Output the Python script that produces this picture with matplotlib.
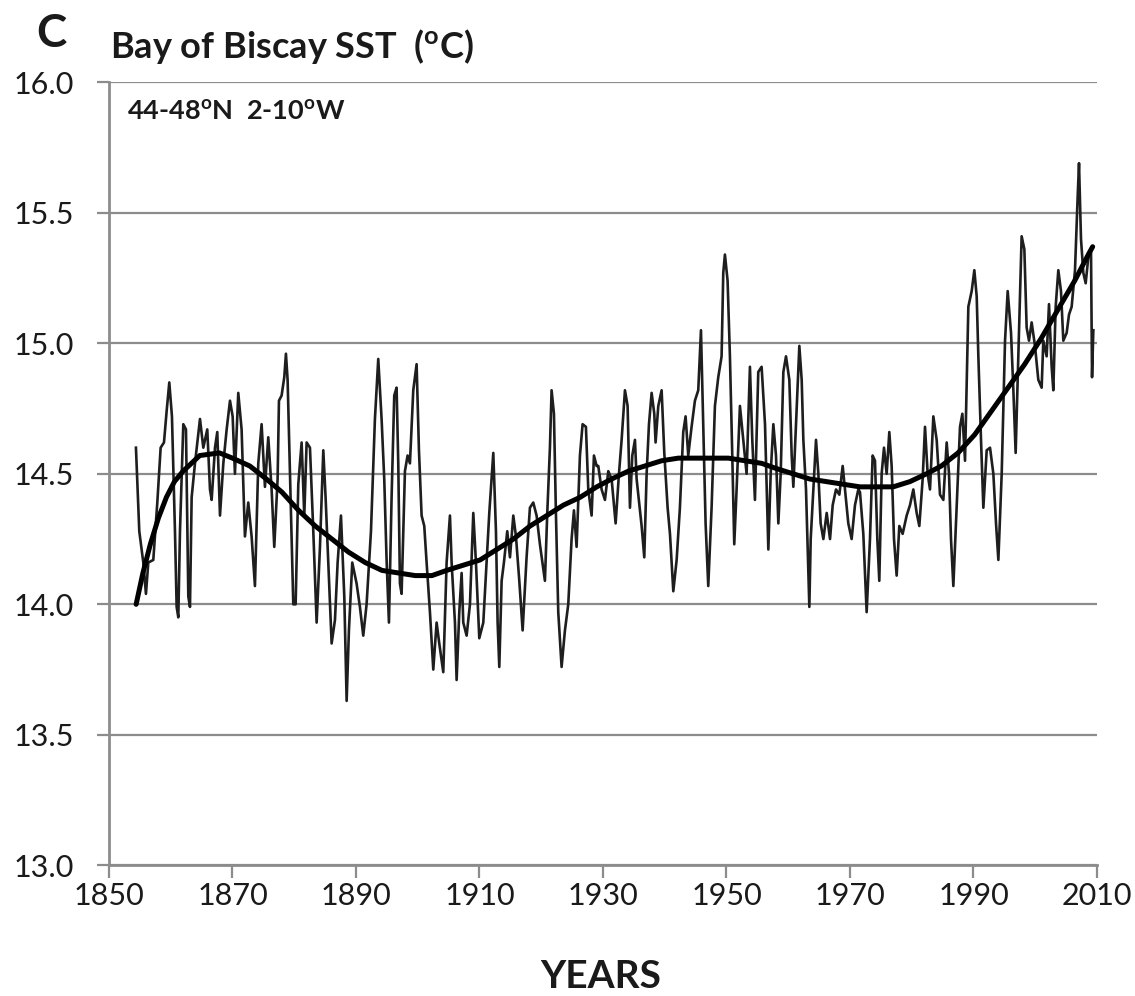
import matplotlib
matplotlib.use("Agg")
import matplotlib.pyplot as plt

plt.rcParams['font.family'] = ['Lato', 'DejaVu Sans']
plt.rcParams['mathtext.fontset'] = 'custom'
plt.rcParams['mathtext.rm'] = 'Lato'
plt.rcParams['mathtext.bf'] = 'Lato:bold'

# ---- data ----
sst_years = [
    1854.37, 1854.91, 1855.56, 1855.99, 1856.37, 1857.18, 1857.83, 1858.37, 1858.91, 1859.34,
    1859.77, 1860.20, 1860.69, 1860.96, 1861.23, 1861.50, 1862.04, 1862.47, 1862.85, 1863.12,
    1863.39, 1863.93, 1864.74, 1865.28, 1865.92, 1866.36, 1866.63, 1867.17, 1867.54, 1867.98,
    1868.52, 1869.06, 1869.60, 1870.03, 1870.40, 1870.94, 1871.48, 1872.02, 1872.56, 1873.10,
    1873.64, 1874.18, 1874.72, 1875.26,
    1875.80, 1876.34, 1876.77, 1877.31, 1877.53, 1877.96, 1878.39, 1878.66, 1878.93, 1879.31,
    1879.85, 1880.23, 1880.66, 1881.20, 1881.63, 1882.01, 1882.55, 1883.09, 1883.63, 1884.17,
    1884.71, 1885.08, 1885.52, 1886.06, 1886.60, 1887.03, 1887.57, 1888.11, 1888.49, 1888.86,
    1889.40, 1890.10, 1890.64, 1891.18, 1891.72, 1892.43, 1893.07, 1893.61, 1894.15, 1894.58,
    1894.96, 1895.34, 1895.77, 1896.20, 1896.58, 1896.85, 1897.12, 1897.39, 1897.93, 1898.36,
    1898.74, 1899.28, 1899.82, 1900.20, 1900.63, 1901.06, 1901.44, 1901.98,
    1902.52, 1903.06, 1903.49, 1904.14, 1904.68, 1905.22, 1905.49, 1906.03, 1906.30, 1906.73,
    1907.11, 1907.38, 1907.92, 1908.46, 1909.00, 1909.43, 1909.97, 1910.62, 1911.16, 1911.59,
    1912.24, 1912.67, 1912.94, 1913.21, 1913.59, 1913.96, 1914.50, 1914.94, 1915.48, 1915.91,
    1916.45, 1916.99, 1917.63, 1918.17, 1918.71, 1919.25, 1919.79, 1920.60, 1920.98, 1921.41,
    1921.68, 1922.06, 1922.38, 1922.76, 1923.30, 1923.84, 1924.38, 1924.92, 1925.30, 1925.73,
    1926.27, 1926.70, 1927.24, 1927.62, 1928.16, 1928.54, 1928.97,
    1929.24, 1929.78, 1930.32, 1930.86, 1931.40, 1932.05, 1932.59, 1933.02, 1933.56, 1933.99,
    1934.37, 1934.75, 1935.18, 1935.45, 1936.26, 1936.69, 1937.07, 1937.45, 1937.88, 1938.31,
    1938.52, 1938.96, 1939.50, 1939.93, 1940.47, 1940.85, 1941.39, 1941.93, 1942.46, 1943.00,
    1943.38, 1943.81, 1944.35, 1944.89, 1945.43, 1945.87, 1946.24, 1946.62, 1947.05, 1947.59,
    1948.13, 1948.67, 1949.21, 1949.48, 1949.75, 1950.18, 1950.56, 1950.94, 1951.26, 1951.64,
    1952.18, 1952.72, 1953.26, 1953.80, 1954.18, 1954.61, 1955.15, 1955.69,
    1956.24, 1956.78, 1957.16, 1957.59, 1958.02, 1958.40, 1958.78, 1959.21, 1959.64, 1960.18,
    1960.56, 1960.83, 1961.26, 1961.80, 1962.18, 1962.45, 1962.88, 1963.42, 1963.64, 1964.07,
    1964.50, 1964.88, 1965.25, 1965.69, 1966.23, 1966.77, 1967.20, 1967.74, 1968.28, 1968.82,
    1969.19, 1969.73, 1970.27, 1970.81, 1971.35, 1971.62, 1972.16, 1972.70, 1973.24, 1973.67,
    1974.05, 1974.43, 1974.75, 1975.13, 1975.51, 1975.94, 1976.37, 1976.75, 1977.13, 1977.56,
    1977.99, 1978.53, 1979.18, 1979.72, 1980.26, 1980.80, 1981.23, 1981.77, 1982.15,
    1982.58, 1982.96, 1983.50, 1984.04, 1984.58, 1985.12, 1985.66, 1986.04, 1986.36, 1986.74,
    1987.28, 1987.82, 1988.20, 1988.63, 1989.17, 1989.71, 1990.14, 1990.52, 1990.79, 1991.22,
    1991.60, 1992.14, 1992.68, 1993.22, 1993.65, 1994.03, 1994.57, 1995.11, 1995.54, 1996.08,
    1996.46, 1996.83, 1997.26, 1997.80, 1998.24, 1998.61, 1998.99, 1999.42, 1999.96, 2000.50,
    2001.04, 2001.31, 2001.85, 2002.23, 2002.66, 2002.93, 2003.31, 2003.74, 2004.17, 2004.55,
    2005.09, 2005.47, 2005.90, 2006.44, 2006.87, 2007.09, 2007.41, 2007.79, 2008.17, 2008.60,
    2009.03, 2009.20, 2009.41,
]
sst_values = [
    14.60, 14.28, 14.16, 14.04, 14.16, 14.17, 14.39, 14.60, 14.62, 14.74,
    14.85, 14.72, 14.28, 13.99, 13.95, 14.28, 14.69, 14.67, 14.03, 13.99,
    14.41, 14.54, 14.71, 14.60, 14.67, 14.44, 14.40, 14.60, 14.66, 14.34,
    14.54, 14.67, 14.78, 14.72, 14.50, 14.81, 14.67, 14.26, 14.39, 14.26,
    14.07, 14.54, 14.69, 14.45,
    14.64, 14.44, 14.22, 14.48, 14.78, 14.80, 14.87, 14.96, 14.86, 14.51,
    14.00, 14.00, 14.46, 14.62, 14.34, 14.62, 14.60, 14.28, 13.93, 14.22,
    14.59, 14.41, 14.16, 13.85, 13.94, 14.16, 14.34, 14.03, 13.63, 13.90,
    14.16, 14.08, 13.99, 13.88, 14.00, 14.28, 14.71, 14.94, 14.71, 14.48,
    14.17, 13.93, 14.41, 14.80, 14.83, 14.54, 14.08, 14.04, 14.51, 14.57,
    14.54, 14.82, 14.92, 14.59, 14.34, 14.30, 14.16, 13.97,
    13.75, 13.93, 13.85, 13.74, 14.16, 14.34, 14.16, 13.93, 13.71, 13.97,
    14.12, 13.93, 13.88, 14.00, 14.35, 14.16, 13.87, 13.93, 14.16, 14.35,
    14.58, 14.28, 13.93, 13.76, 14.09, 14.16, 14.28, 14.18, 14.34, 14.26,
    14.09, 13.90, 14.18, 14.37, 14.39, 14.34, 14.23, 14.09, 14.35, 14.60,
    14.82, 14.73, 14.35, 13.97, 13.76, 13.90, 14.00, 14.25, 14.36, 14.22,
    14.57, 14.69, 14.68, 14.44, 14.34, 14.57, 14.53,
    14.53, 14.44, 14.40, 14.51, 14.48, 14.31, 14.50, 14.63, 14.82, 14.76,
    14.37, 14.57, 14.63, 14.48, 14.30, 14.18, 14.50, 14.69, 14.81, 14.73,
    14.62, 14.76, 14.82, 14.58, 14.37, 14.27, 14.05, 14.17, 14.37, 14.66,
    14.72, 14.57, 14.68, 14.78, 14.82, 15.05, 14.69, 14.31, 14.07, 14.37,
    14.76, 14.87, 14.95, 15.27, 15.34, 15.24, 14.95, 14.57, 14.23, 14.44,
    14.76, 14.63, 14.50, 14.91, 14.63, 14.40, 14.89, 14.91,
    14.69, 14.21, 14.50, 14.69, 14.57, 14.31, 14.50, 14.89, 14.95, 14.86,
    14.57, 14.45, 14.69, 14.99, 14.86, 14.63, 14.44, 13.99, 14.25, 14.44,
    14.63, 14.50, 14.31, 14.25, 14.35, 14.25, 14.38, 14.44, 14.42, 14.53,
    14.44, 14.31, 14.25, 14.38, 14.44, 14.43, 14.27, 13.97, 14.25, 14.57,
    14.55, 14.25, 14.09, 14.50, 14.60, 14.50, 14.66, 14.53, 14.25, 14.11,
    14.30, 14.27, 14.34, 14.38, 14.44, 14.35, 14.30, 14.48, 14.68,
    14.50, 14.44, 14.72, 14.63, 14.42, 14.40, 14.62, 14.50, 14.25, 14.07,
    14.37, 14.68, 14.73, 14.55, 15.14, 15.20, 15.28, 15.18, 14.95, 14.63,
    14.37, 14.59, 14.60, 14.50, 14.31, 14.17, 14.50, 15.01, 15.20, 15.04,
    14.82, 14.58, 14.95, 15.41, 15.36, 15.06, 15.01, 15.08, 14.99, 14.86,
    14.83, 15.01, 14.95, 15.15, 14.91, 14.82, 15.14, 15.28, 15.20, 15.01,
    15.04, 15.11, 15.14, 15.28, 15.56, 15.69, 15.40, 15.27, 15.23, 15.33,
    15.36, 14.87, 15.05,
]

trend_years = [
    1854.4, 1855.5, 1856.7, 1858.0, 1859.3, 1860.6, 1862.0, 1864.7, 1867.9, 1870.0,
    1872.8, 1875.5, 1878.0, 1880.7, 1883.4, 1886.1, 1888.8, 1891.5, 1894.2, 1896.9,
    1899.6, 1902.3, 1904.7, 1907.4, 1910.1, 1912.8, 1915.5, 1918.2, 1920.9, 1923.6,
    1926.3, 1929.0, 1931.4, 1934.1, 1936.8, 1939.5, 1942.2, 1944.9, 1947.6, 1950.3,
    1953.0, 1955.7, 1958.1, 1960.8, 1963.5, 1966.2, 1968.9, 1971.6, 1974.3, 1977.0,
    1979.7, 1982.4, 1984.8, 1987.5, 1990.2, 1992.9, 1995.6, 1998.3, 2001.0, 2003.7,
    2006.4, 2008.6, 2009.3,
]
trend_values = [
    14.00, 14.12, 14.23, 14.33, 14.41, 14.47, 14.51, 14.57, 14.58, 14.56,
    14.53, 14.48, 14.43, 14.36, 14.30, 14.25, 14.20, 14.16, 14.13, 14.12,
    14.11, 14.11, 14.13, 14.15, 14.17, 14.21, 14.25, 14.30, 14.34, 14.38,
    14.41, 14.45, 14.48, 14.51, 14.53, 14.55, 14.56, 14.56, 14.56, 14.56,
    14.55, 14.54, 14.52, 14.50, 14.48, 14.47, 14.46, 14.45, 14.45, 14.45,
    14.47, 14.50, 14.53, 14.58, 14.65, 14.74, 14.83, 14.92, 15.02, 15.13,
    15.24, 15.34, 15.37,
]

x_ticks = [1850, 1870, 1890, 1910, 1930, 1950, 1970, 1990, 2010]
y_ticks = [13.0, 13.5, 14.0, 14.5, 15.0, 15.5, 16.0]

# ---- figure ----
fig = plt.figure(figsize=(11.35, 9.96), dpi=100)
ax = fig.add_axes([0.096, 0.1312, 0.8705, 0.7862])

grid_col = '#8c8c8c'
for yv in y_ticks:
    ax.axhline(yv, color=grid_col, lw=1.6, zorder=1)

ax.plot(sst_years, sst_values, color='#1e1e1e', lw=1.9, zorder=3)
ax.plot(trend_years, trend_values, color='black', lw=3.6, zorder=4,
        solid_capstyle='round')

ax.set_xlim(1850, 2010)
ax.set_ylim(13.0, 16.0)
ax.set_xticks(x_ticks)
ax.set_yticks(y_ticks)
ax.set_xticklabels([str(v) for v in x_ticks])
ax.set_yticklabels([f"{v:.1f}" for v in y_ticks])

for s in ['top', 'right']:
    ax.spines[s].set_visible(False)
for s in ['left', 'bottom']:
    ax.spines[s].set_color('#8c8c8c')
    ax.spines[s].set_linewidth(2.0)

ax.tick_params(axis='both', colors='#8c8c8c', width=1.6, length=9,
               labelcolor='#1a1a1a', labelsize=22)
ax.tick_params(axis='x', pad=3)
ax.tick_params(axis='y', pad=16)

ax.text(0.018, 0.978, r'44-48$^{\mathbf{o}}$N  2-10$^{\mathbf{o}}$W', transform=ax.transAxes,
        fontsize=19.5, fontweight='bold', ha='left', va='top', color='#1a1a1a')

fig.text(0.032, 0.953, 'C', fontsize=33, fontweight='bold', ha='left',
         va='baseline', color='#1a1a1a')
fig.text(0.097, 0.942, r'Bay of Biscay SST  ($^{\mathbf{o}}$C)', fontsize=26,
         fontweight='bold', ha='left', va='baseline', color='#1a1a1a')

fig.text(0.529, 0.008, 'YEARS', fontsize=28, fontweight='bold', ha='center',
         va='baseline', color='#1a1a1a')

fig.savefig('out.png', dpi=100, facecolor='white')
